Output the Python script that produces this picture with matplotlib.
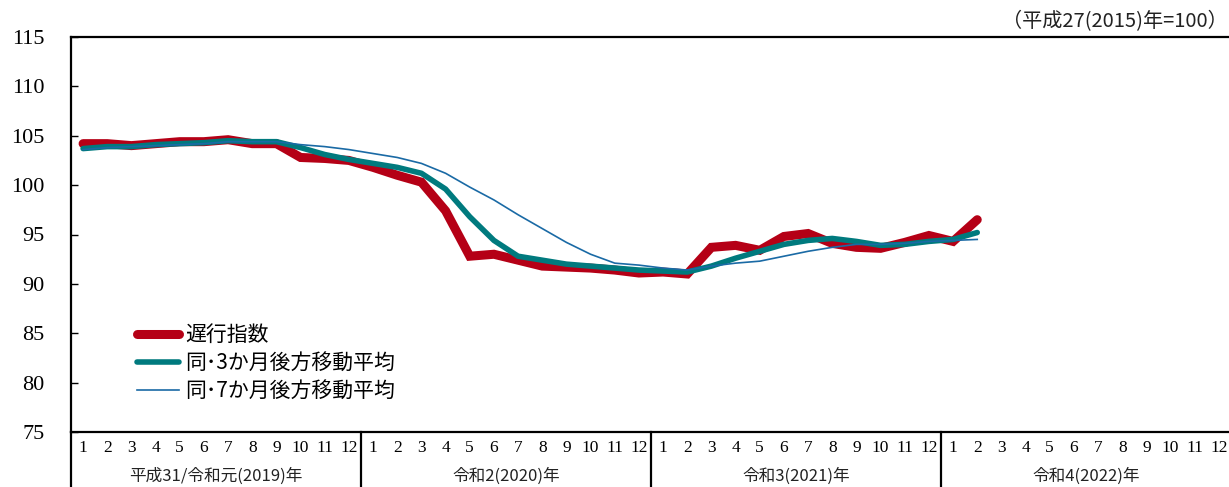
import numpy as np
import matplotlib.pyplot as plt
import matplotlib.transforms as mtransforms

# 遅行指数 (2019/1 - 2022/2)
lagging = [104.2, 104.2, 104.0, 104.2, 104.4, 104.4, 104.6, 104.2, 104.2, 102.8, 102.7, 102.5,
           101.8, 101.0, 100.3, 97.4, 92.8, 93.0, 92.4, 91.8, 91.7, 91.6, 91.4, 91.1,
           91.2, 91.0, 93.7, 93.9, 93.4, 94.8, 95.1, 94.1, 93.7, 93.6, 94.2, 94.9,
           94.3, 96.5]
ma3 = [103.7, 103.9, 103.9, 104.1, 104.2, 104.3, 104.5, 104.4, 104.4, 103.8, 103.1, 102.6,
       102.2, 101.8, 101.2, 99.6, 96.8, 94.4, 92.8, 92.4, 92.0, 91.8, 91.6, 91.4,
       91.3, 91.2, 91.8, 92.6, 93.3, 94.0, 94.4, 94.6, 94.3, 93.9, 94.0, 94.3,
       94.5, 95.2]
ma7 = [103.6, 103.8, 103.9, 104.0, 104.1, 104.2, 104.4, 104.4, 104.4, 104.1, 103.9, 103.6,
       103.2, 102.8, 102.2, 101.2, 99.8, 98.5, 97.0, 95.6, 94.2, 93.0, 92.1, 91.9,
       91.6, 91.4, 91.8, 92.1, 92.3, 92.8, 93.3, 93.7, 94.0, 94.0, 94.1, 94.3,
       94.4, 94.5]
months = [str(m) for m in range(1, 13)] * 4
years = ["平成31/令和元(2019)年", "令和2(2020)年", "令和3(2021)年", "令和4(2022)年"]

JP = ["Noto Sans CJK JP", "DejaVu Sans"]
SERIF = "Liberation Serif"


def main():
    fig = plt.figure(figsize=(12.29, 4.87), dpi=100)
    ax = fig.add_axes([71 / 1229, 55 / 487, 1160 / 1229, 395 / 487])

    x = np.arange(1, len(lagging) + 1)
    ax.plot(x, lagging, color="#B50016", lw=6.5, solid_capstyle="round",
            solid_joinstyle="miter", label="遅行指数", zorder=3)
    ax.plot(x, ma3, color="#007A7E", lw=4.0, solid_capstyle="round",
            label="同･3か月後方移動平均", zorder=4)
    ax.plot(x, ma7, color="#1A6AA5", lw=1.2, label="同･7か月後方移動平均", zorder=5)

    ax.set_xlim(0.5, 48.5)
    ax.set_ylim(75, 115)
    ax.set_yticks(np.arange(75, 116, 5))
    ax.tick_params(axis="y", direction="in", length=5, width=1, pad=19,
                   labelsize=16)
    for lab in ax.get_yticklabels():
        lab.set_fontfamily(SERIF)

    ax.set_xticks(np.arange(1, 49))
    ax.set_xticklabels(months, fontfamily=SERIF, fontsize=12.5)
    ax.tick_params(axis="x", length=0, pad=6)

    for s in ["left", "top", "bottom"]:
        ax.spines[s].set_linewidth(1.6)
    ax.spines["right"].set_visible(False)

    trans = mtransforms.blended_transform_factory(ax.transData, ax.transAxes)
    for b in [0.5, 12.5, 24.5, 36.5]:
        ax.plot([b, b], [0, -0.2], color="black", lw=1.6, transform=trans,
                clip_on=False)
    for i, yl in enumerate(years):
        ax.text(6.5 + 12 * i, -0.113, yl, transform=trans, ha="center",
                va="center", fontsize=12, family=JP, color="#222222")

    ax.text(0.997, 1.04, "（平成27(2015)年=100）", transform=ax.transAxes,
            ha="right", va="center", fontsize=14.5, family=JP, color="#222222")

    ax.legend(loc="upper left", bbox_to_anchor=(0.05, 0.295),
              frameon=False, handlelength=2.0, handletextpad=0.3,
              labelspacing=0.3, borderaxespad=0,
              prop={"family": JP, "size": 15})

    plt.savefig("out.png", dpi=100)


if __name__ == "__main__":
    main()
